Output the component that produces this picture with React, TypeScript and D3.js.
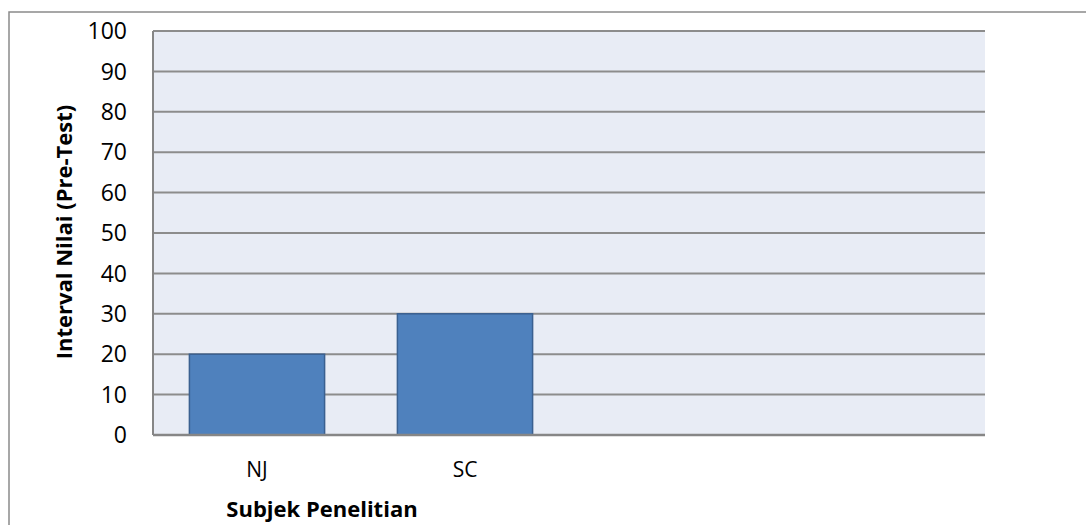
import React from "react";
import * as d3 from "d3";

// Subjects and their pre-test interval values; the last two slots are empty columns.
const categories = ["NJ", "SC", "", ""];
const values: (number | null)[] = [20, 30, null, null];
const yTicks = [0, 10, 20, 30, 40, 50, 60, 70, 80, 90, 100];
const yTitle = "Interval Nilai (Pre-Test)";
const xTitle = "Subjek Penelitian";

const W = 1086;
const H = 525;
const plot = { left: 153, right: 985, top: 31, bottom: 435 };
const FONT = "'Open Sans', 'Noto Sans', sans-serif";

export default function App() {
  const slots = d3.range(categories.length).map(String);
  const x = d3
    .scaleBand<string>()
    .domain(slots)
    .range([plot.left, plot.right])
    .paddingInner(0.35)
    .paddingOuter(0.175);
  const y = d3.scaleLinear().domain([0, 100]).range([plot.bottom, plot.top]);
  const slotCenter = (i: number) =>
    plot.left + ((plot.right - plot.left) / categories.length) * (i + 0.5);

  return (
    <svg
      width={W}
      height={H}
      style={{ position: "absolute", left: 0, top: 0, display: "block" }}
    >
      <rect x={0} y={0} width={W} height={H} fill="#ffffff" />
      {/* chart frame */}
      <rect
        x={9}
        y={12}
        width={W + 40}
        height={H + 40}
        fill="none"
        stroke="#8a8a8a"
        strokeWidth={1.5}
      />
      {/* plot background */}
      <rect
        x={plot.left}
        y={plot.top}
        width={plot.right - plot.left}
        height={plot.bottom - plot.top}
        fill="#e8ecf5"
      />
      {/* gridlines */}
      {yTicks
        .filter((t) => t > 0)
        .map((t) => (
          <line
            key={t}
            x1={plot.left}
            x2={plot.right}
            y1={y(t)}
            y2={y(t)}
            stroke="#8c8c8c"
            strokeWidth={2}
          />
        ))}
      {/* bars */}
      {values.map((v, i) =>
        v == null ? null : (
          <rect
            key={i}
            x={x(String(i))!}
            y={y(v)}
            width={x.bandwidth()}
            height={y(0) - y(v)}
            fill="#4f81bd"
            stroke="#3a6090"
            strokeWidth={1.5}
          />
        )
      )}
      {/* axes */}
      <line
        x1={plot.left}
        x2={plot.left}
        y1={plot.top}
        y2={plot.bottom}
        stroke="#868686"
        strokeWidth={2}
      />
      <line
        x1={plot.left}
        x2={plot.right}
        y1={plot.bottom}
        y2={plot.bottom}
        stroke="#868686"
        strokeWidth={2.5}
      />
      {/* y tick labels */}
      {yTicks.map((t) => (
        <text
          key={t}
          x={127}
          y={y(t)}
          dy="0.36em"
          textAnchor="end"
          fontFamily={FONT}
          fontSize={23}
          fill="#000"
        >
          {t}
        </text>
      ))}
      {/* x category labels */}
      {categories.map((c, i) =>
        c ? (
          <text
            key={i}
            x={slotCenter(i)}
            y={477}
            textAnchor="middle"
            fontFamily={FONT}
            fontSize={21}
            fill="#000"
          >
            {c}
          </text>
        ) : null
      )}
      {/* axis titles */}
      <text
        x={322}
        y={517}
        textAnchor="middle"
        fontFamily={FONT}
        fontSize={22}
        fontWeight="bold"
        fill="#000"
      >
        {xTitle}
      </text>
      <text
        transform={`translate(72, 232) rotate(-90)`}
        textAnchor="middle"
        fontFamily={FONT}
        fontSize={22}
        fontWeight="bold"
        fill="#000"
      >
        {yTitle}
      </text>
    </svg>
  );
}
